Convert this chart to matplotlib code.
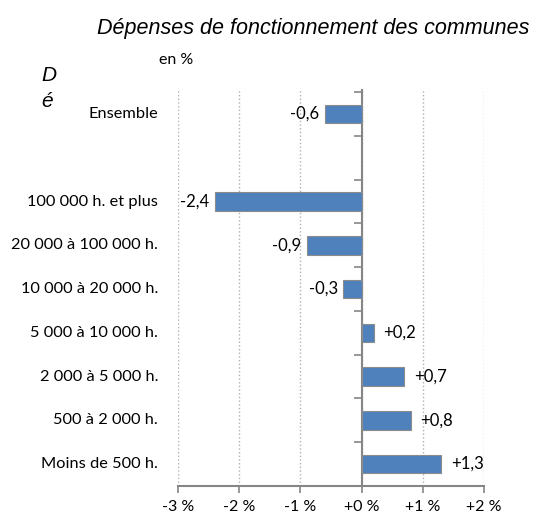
import numpy as np
import matplotlib.pyplot as plt
from matplotlib import transforms

categories = ['Ensemble', '100 000 h. et plus', '20 000 à 100 000 h.',
              '10 000 à 20 000 h.', '5 000 à 10 000 h.', '2 000 à 5 000 h.',
              '500 à 2 000 h.', 'Moins de 500 h.']
values = [-0.6, -2.4, -0.9, -0.3, 0.2, 0.7, 0.8, 1.3]
xticks = [-3, -2, -1, 0, 1, 2]
xtick_labels = ['-3 %', '-2 %', '-1 %', '+0 %', '+1 %', '+2 %']

# one empty slot between "Ensemble" and the size classes
pos = np.array([0] + list(range(2, len(categories) + 1)))

fig = plt.figure(figsize=(5.35, 5.19), dpi=100)
ax = fig.add_axes([0.3327, 0.0636, 0.572, 0.763])

ax.barh(pos, values, height=0.42, color='#4F81BD', edgecolor='#8C8C8C', linewidth=0.8, zorder=3)

lab_font = 'Lato'
for p, v in zip(pos, values):
    txt = ('+' if v > 0 else '') + f'{v:.1f}'.replace('.', ',')
    if v < 0:
        ax.annotate(txt, (v, p), xytext=(-4, 0), textcoords='offset points',
                    ha='right', va='center', fontsize=12, family=lab_font)
    else:
        ax.annotate(txt, (v, p), xytext=(7, 0), textcoords='offset points',
                    ha='left', va='center', fontsize=12, family=lab_font)

# category labels to the left of the plot
trans = transforms.blended_transform_factory(ax.transAxes, ax.transData)
for p, c in zip(pos, categories):
    ax.text(-0.065, p, c, transform=trans, ha='right', va='center', fontsize=11.8, family=lab_font)

ax.set_ylim(8.5, -0.55)
ax.set_xlim(-3, 2)
ax.set_xticks(xticks)
ax.set_xticklabels(xtick_labels, family=lab_font, fontsize=11.5)
ax.set_yticks(np.arange(-0.5, 9, 1))
ax.set_yticklabels([])

ax.spines['top'].set_visible(False)
ax.spines['right'].set_visible(False)
ax.spines['left'].set_position(('data', 0))
for s in ['left', 'bottom']:
    ax.spines[s].set_color('#868686')
    ax.spines[s].set_linewidth(1.5)
ax.tick_params(axis='y', direction='out', length=6, width=1.2, color='#868686')
ax.tick_params(axis='x', direction='out', length=5, width=1.2, color='#868686', pad=5)

ax.grid(axis='x', linestyle=':', color='#B0B0B0', linewidth=1, zorder=0)
ax.set_axisbelow(True)

fig.text(0.99, 0.945, 'Dépenses de fonctionnement des communes', ha='right', va='center',
         style='italic', fontsize=15.5, family='Liberation Sans')
fig.text(0.077, 0.855, 'D', ha='left', va='center', style='italic', fontsize=15, family='Liberation Sans')
fig.text(0.077, 0.805, 'é', ha='left', va='center', style='italic', fontsize=15, family='Liberation Sans')
fig.text(0.298, 0.885, 'en %', ha='left', va='center', fontsize=11.5, family=lab_font)

fig.savefig('out.png', dpi=100)
